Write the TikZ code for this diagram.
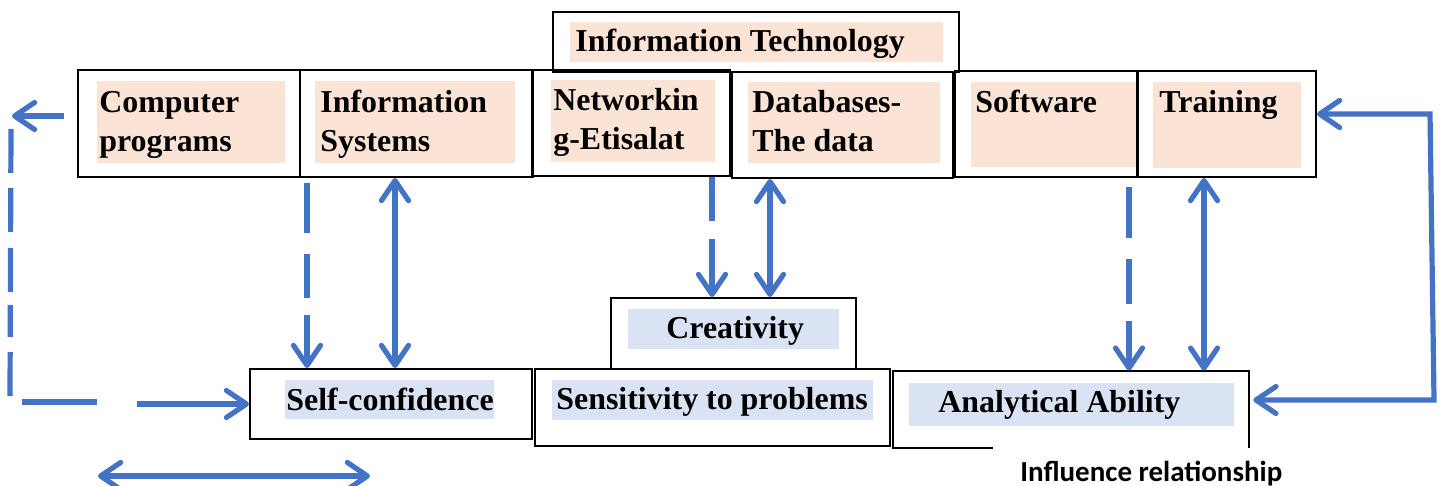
\documentclass[tikz,border=0pt]{standalone}
\usepackage{fontspec}
\setmainfont{Liberation Serif}
\newfontfamily\labelfont{Carlito}
\usetikzlibrary{arrows.meta,fit,calc}
\definecolor{linkblue}{HTML}{4472C4}
\definecolor{bandpink}{HTML}{FBE4D5}
\definecolor{bandblue}{HTML}{DAE3F3}

% two stacked lines whose baseline is that of the first line
\newcommand{\twoline}[2]{\vtop{\baselineskip=19.5pt\hbox{#1}\hbox{#2}}}

\begin{document}
\begin{tikzpicture}[x=0.5pt,y=-0.5pt,
  frame/.style={draw=black, line width=1pt, inner sep=0pt},
  band/.style={fill=#1, inner sep=0pt},
  lbl/.style={anchor=base west, inner sep=0pt, font=\fontsize{15.95pt}{19.5pt}\selectfont\bfseries},
  link/.style={draw=linkblue, line width=2.6pt},
  onehead/.style={-{Straight Barb[round,length=10pt,width=13.5pt]}},
  twohead/.style={{Straight Barb[round,length=10pt,width=13.5pt]}-{Straight Barb[round,length=10pt,width=13.5pt]}}
]
\useasboundingbox (0,0) rectangle (1443,486);

% coloured bands behind the labels
\node[band=bandpink, fit={(570,22) (943,62)}] (it-bg) {};
\node[band=bandpink, fit={(97,81) (285,163)}] (cp-bg) {};
\node[band=bandpink, fit={(315,81) (515,163)}] (is-bg) {};
\node[band=bandpink, fit={(551,80) (715,162)}] (nw-bg) {};
\node[band=bandpink, fit={(748,82) (940,163)}] (db-bg) {};
\node[band=bandpink, fit={(971,82) (1137,167)}] (sw-bg) {};
\node[band=bandpink, fit={(1153,82) (1301,168)}] (tr-bg) {};
\node[band=bandblue, fit={(628,309) (839,349)}] (cr-bg) {};
\node[band=bandblue, fit={(285,380) (494,419)}] (sc-bg) {};
\node[band=bandblue, fit={(552,380) (873,420)}] (sp-bg) {};
\node[band=bandblue, fit={(909,383) (1234,426)}] (aa-bg) {};

% frames
\node[frame, fit={(553,12) (959,72)}] (it) {};
\node[frame, fit={(78,70) (300,177)}] (cp) {};
\node[frame, fit={(300,70) (533,177)}] (is) {};
\node[frame, fit={(532,70) (730,176)}] (nw) {};
\node[frame, fit={(732,72) (953,178)}] (db) {};
\node[frame, fit={(955,71) (1138,177)}] (sw) {};
\node[frame, fit={(1137,71) (1316,177)}] (tr) {};
\node[frame, fit={(611,298) (856,369)}] (cr) {};
\node[frame, fit={(535,369) (890,446)}] (sp) {};
\node[frame, fit={(250,369) (532,439)}] (sc) {};
\node[inner sep=0pt, fit={(893,371) (1249,448)}] (aa) {};
\draw[black, line width=1pt] ($(aa.south west)+(100,0)$) -- (aa.south west)
  -- (aa.north west) -- (aa.north east) -- (aa.south east);

% labels
\node[lbl] (it-t) at (575,52) {Information Technology};
\node[lbl] (cp-t) at (99,113) {\twoline{Computer}{programs}};
\node[lbl] (is-t) at (320,113) {\twoline{Information}{Systems}};
\node[lbl] (nw-t) at (553,111) {\twoline{Networkin}{g-Etisalat}};
\node[lbl] (db-t) at (752,113) {\twoline{Databases-}{The data}};
\node[lbl] (sw-t) at (975,113) {Software};
\node[lbl] (tr-t) at (1159,113) {Training};
\node[lbl] (cr-t) at (666,338) {Creativity};
\node[lbl] (sc-t) at (286,410) {Self-confidence};
\node[lbl] (sp-t) at (556,409) {Sensitivity to problems};
\node[lbl] (aa-t) at (938,412) {Analytical Ability};
\node[anchor=base west, inner sep=0pt, font=\labelfont\bfseries\fontsize{14.5pt}{17pt}\selectfont]
  (key) at (1020,481) {Influence relationship};

% connector positions
\coordinate (c1) at (307,0);
\coordinate (c2) at (395,0);
\coordinate (c3) at (712,0);
\coordinate (c4) at (770,0);
\coordinate (c5) at (1129,0);
\coordinate (c6) at (1204,0);
\coordinate (la) at (64,116);
\coordinate (lb) at (12,116);
\coordinate (l1) at (11,129);
\coordinate (l2) at (10,396);
\coordinate (h1) at (22,402);
\coordinate (h2) at (97,402);
\coordinate (h3) at (137,404);
\coordinate (b1) at (98,476);
\coordinate (b2) at (370,476);
\coordinate (r1) at (1430,114);
\coordinate (r2) at (1434,400);

% vertical links
\draw[link, onehead, shorten <=2.5pt,
  dash pattern=on 25pt off 10.5pt on 22pt off 8.5pt on 80pt off 1pt]
  (is.south -| c1) -- (sc.north -| c1);
\draw[link, twohead] (is.south -| c2) -- (sc.north -| c2);
\draw[link, onehead,
  dash pattern=on 22pt off 9pt on 80pt off 1pt]
  (nw.south -| c3) -- (cr.north -| c3);
\draw[link, twohead] (db.south -| c4) -- (cr.north -| c4);
\draw[link, onehead, shorten <=4.5pt,
  dash pattern=on 25.5pt off 10.5pt on 22.5pt off 8.5pt on 80pt off 1pt]
  (sw.south -| c5) -- (aa.north -| c5);
\draw[link, twohead] (tr.south -| c6) -- (aa.north -| c6);

% left return path
\draw[link, onehead] (la) -- (lb);
\draw[link, dash pattern=on 22pt off 7.5pt on 22pt off 8pt on 22pt off 6.5pt on 16pt off 7.5pt on 30pt off 1pt]
  (l1) -- (l2);
\draw[link] (h1) -- (h2);
\draw[link, onehead] (h3) -- (sc.west);

% right return path
\draw[link, twohead, shorten >=2pt] (tr.east |- r1) -- (r1) -- (r2) -- (aa.east |- r2);

% key arrow
\draw[link, twohead] (b1) -- (b2);
\end{tikzpicture}
\end{document}
